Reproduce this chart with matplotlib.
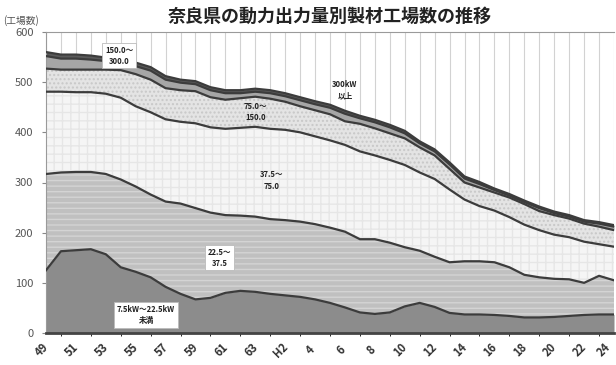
import numpy as np
import matplotlib
matplotlib.use("Agg")
import matplotlib.pyplot as plt
import matplotlib.transforms as mtransforms

plt.rcParams['font.family'] = ['Noto Sans CJK JP', 'DejaVu Sans']

years = list(range(1974, 2013))

# number of sawmills by power class (stack order: bottom -> top)
under_22_5 = [125, 163, 165, 167, 157, 131, 122, 111, 92, 78, 67, 70, 80,
              84, 82, 78, 75, 72, 67, 60, 51, 41, 38, 41, 53, 60,
              52, 40, 37, 37, 36, 34, 31, 31, 32, 34, 36, 37, 37]
kw22_37 = [192, 157, 156, 154, 160, 175, 170, 165, 170, 180, 182, 170, 155,
           150, 150, 149, 150, 150, 150, 150, 151, 146, 149, 139, 118, 104,
           100, 101, 106, 106, 105, 97, 85, 80, 76, 73, 64, 77, 68]
kw37_75 = [164, 161, 159, 159, 160, 163, 160, 164, 164, 163, 169, 170, 172,
           175, 179, 180, 180, 178, 175, 174, 173, 175, 167, 165, 164, 156,
           155, 145, 123, 110, 103, 100, 100, 94, 88, 84, 82, 63, 67]
kw75_150 = [46, 44, 45, 45, 48, 55, 64, 65, 62, 63, 64, 60, 58,
            59, 60, 60, 56, 52, 52, 52, 47, 55, 54, 53, 53, 50,
            47, 41, 34, 37, 36, 39, 41, 38, 39, 37, 36, 35, 33]
kw150_300 = [25, 22, 22, 20, 17, 15, 16, 18, 17, 15, 14, 14, 13,
             10, 10, 11, 11, 12, 12, 13, 15, 11, 12, 12, 10, 8,
             8, 9, 8, 7, 5, 4, 4, 6, 4, 4, 4, 6, 7]
kw300_over = [8, 8, 8, 8, 7, 7, 7, 7, 7, 6, 6, 6, 6,
              6, 6, 6, 6, 6, 6, 6, 6, 5, 5, 5, 5, 4,
              4, 4, 4, 4, 3, 3, 3, 3, 3, 3, 3, 3, 3]

tick_years = list(range(1974, 2013, 2))
tick_labels = ['49', '51', '53', '55', '57', '59', '61', '63', 'H2', '4', '6',
               '8', '10', '12', '14', '16', '18', '20', '22', '24']

layer_labels = ['7.5kW～22.5kW\n未満', '22.5～\n37.5', '37.5～\n75.0',
                '75.0～\n150.0', '150.0～\n300.0', '300kW\n以上']

series = [under_22_5, kw22_37, kw37_75, kw75_150, kw150_300, kw300_over]
faces = ['#8c8c8c', '#c0c0c0', '#f5f5f5', '#e4e4e4', '#a6a6a6', '#5a5a5a']
hatches = [None, '---', '++', '....', None, None]
hcolors = ['#8c8c8c', '#d4d4d4', '#e6e6e6', '#c8c8c8', '#a6a6a6', '#5a5a5a']

fig = plt.figure(figsize=(6.16, 3.65), dpi=100)
ax = fig.add_axes([46 / 616, 1 - 333 / 365, (614 - 46) / 616, (333 - 32) / 365])

x = np.array(years)
cum = np.cumsum(np.array(series), axis=0)
base = np.zeros(len(years))
for i, top in enumerate(cum):
    ax.fill_between(x, base, top, facecolor=faces[i], edgecolor=hcolors[i],
                    hatch=hatches[i], linewidth=0, zorder=2)
    ax.plot(x, top, color='#3c3c3c', lw=1.6, zorder=3)
    base = top

ax.set_xlim(1974, 2012)
ax.set_ylim(0, 600)
ax.set_xticks(tick_years)
ax.set_xticklabels([])
xtrans = ax.get_xaxis_transform()
for j, (ty, tl) in enumerate(zip(tick_years, tick_labels)):
    dx = -4 if j < len(tick_years) - 1 else -10
    t = xtrans + mtransforms.ScaledTranslation(dx / 100, -17 / 100,
                                               fig.dpi_scale_trans)
    ax.text(ty, 0, tl, transform=t, rotation=45, fontsize=8,
            fontweight='bold', color='#333333', ha='center', va='center',
            clip_on=False)
ax.set_xticks(years, minor=True)
ax.grid(axis='x', which='both', color='#d2d2d2', lw=0.8)
ax.set_axisbelow(True)
ax.set_yticks(range(0, 601, 100))
ax.set_yticklabels([str(v) for v in range(0, 601, 100)], fontsize=8,
                   color='#555555')
ax.tick_params(axis='y', length=3, color='#888888', pad=6)
ax.tick_params(axis='x', length=0)
for s in ['left', 'top']:
    ax.spines[s].set_color('#9a9a9a')
ax.spines['right'].set_visible(False)
ax.spines['bottom'].set_color('#444444')
ax.spines['bottom'].set_linewidth(2)

box = dict(boxstyle='square,pad=0.35', facecolor='white', edgecolor='#bbbbbb', lw=0.6)
label_pos = [(1980.7, 36), (1985.6, 150), (1989.1, 304), (1988.0, 440),
             (1978.9, 553), (1994.0, 484)]
for i, (lx, ly) in enumerate(label_pos):
    ax.text(lx, ly, layer_labels[i], fontsize=5.5, fontweight='bold',
            ha='center', va='center', color='#222222', linespacing=1.3,
            bbox=box if i in (0, 1, 4) else None, zorder=5)

fig.text(0.535, 0.955, '奈良県の動力出力量別製材工場数の推移', fontsize=13,
         fontweight='bold', ha='center', va='center', color='#222222')
fig.text(0.005, 0.945, '(工場数)', fontsize=7, ha='left', va='center',
         color='#555555')

fig.savefig('out.png', dpi=100)
